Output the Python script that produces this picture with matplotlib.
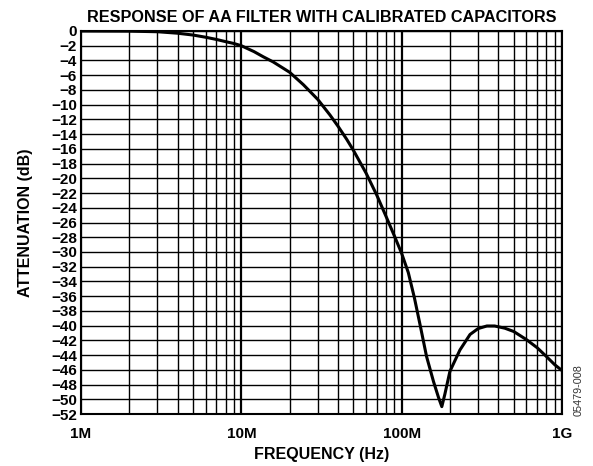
import numpy as np
import matplotlib
matplotlib.use("Agg")
import matplotlib.pyplot as plt
from matplotlib.ticker import FixedLocator, NullFormatter

plt.rcParams['font.family'] = ['Liberation Sans', 'DejaVu Sans']

# frequency (Hz) and attenuation (dB)
freq_hz = [1e6, 2e6, 3e6, 4e6, 5e6, 6e6, 7e6, 8e6, 9e6, 10e6, 12e6, 13.7e6,
           15.8e6, 20e6, 24.4e6, 30e6, 35.7e6, 40e6, 45.4e6, 50e6, 60e6,
           70e6, 80e6, 90e6, 100e6, 110e6, 120e6, 130e6, 143e6, 158e6,
           170e6, 178e6, 186e6, 200e6, 231e6, 267e6, 300e6, 340e6, 380e6,
           440e6, 500e6, 600e6, 700e6, 800e6, 900e6, 1e9]
atten_db = [0.0, -0.02, -0.1, -0.3, -0.55, -0.85, -1.15, -1.45, -1.7, -2.0,
            -2.8, -3.5, -4.2, -5.6, -7.3, -9.3, -11.4, -12.9, -14.7, -16.2,
            -19.3, -22.3, -25.2, -27.8, -30.2, -32.8, -36.2, -39.8, -44.2,
            -47.6, -49.8, -51.0, -49.3, -46.2, -43.3, -41.2, -40.4, -40.05,
            -40.05, -40.35, -40.8, -41.9, -43.0, -44.2, -45.3, -46.1]

x_ticks = [1e6, 1e7, 1e8, 1e9]
x_labels = ['1M', '10M', '100M', '1G']
y_ticks = list(range(0, -53, -2))
y_labels = ['0'] + ['\u2212%d' % -v for v in y_ticks[1:]]

fig = plt.figure(figsize=(5.93, 4.66), dpi=100)
ax = fig.add_axes([81/593, 1 - 414/466, 481/593, 383/466])

ax.set_xscale('log')
ax.set_xlim(1e6, 1e9)
ax.set_ylim(-52, 0)

ax.set_xticks(x_ticks)
ax.set_xticklabels(x_labels, fontsize=11, fontweight='bold')
minor = [m * 10**d for d in range(6, 9) for m in range(2, 10)]
ax.xaxis.set_minor_locator(FixedLocator(minor))
ax.xaxis.set_minor_formatter(NullFormatter())
ax.set_yticks(y_ticks)
ax.set_yticklabels(y_labels, fontsize=11, fontweight='bold')
ax.tick_params(axis='both', which='both', length=0)
ax.tick_params(axis='x', pad=9)
ax.tick_params(axis='y', pad=3)

ax.grid(True, which='major', axis='x', color='black', linewidth=1.6)
ax.grid(True, which='minor', axis='x', color='black', linewidth=1.0)
ax.grid(True, which='major', axis='y', color='black', linewidth=1.0)
for s in ax.spines.values():
    s.set_linewidth(1.5)

ax.plot(freq_hz, atten_db, color='black', linewidth=2.2, zorder=3)

ax.set_title('RESPONSE OF AA FILTER WITH CALIBRATED CAPACITORS',
             fontsize=11.7, fontweight='bold', pad=6.5)
ax.set_xlabel('FREQUENCY (Hz)', fontsize=11.5, fontweight='bold', labelpad=5)
ax.set_ylabel('ATTENUATION (dB)', fontsize=11.5, fontweight='bold', labelpad=13)

fig.text(578.5/593, 1 - 390/466, '05479-008', rotation=90, fontsize=7.8,
         color='#333333', ha='center', va='center')

fig.savefig('out.png', dpi=100)
